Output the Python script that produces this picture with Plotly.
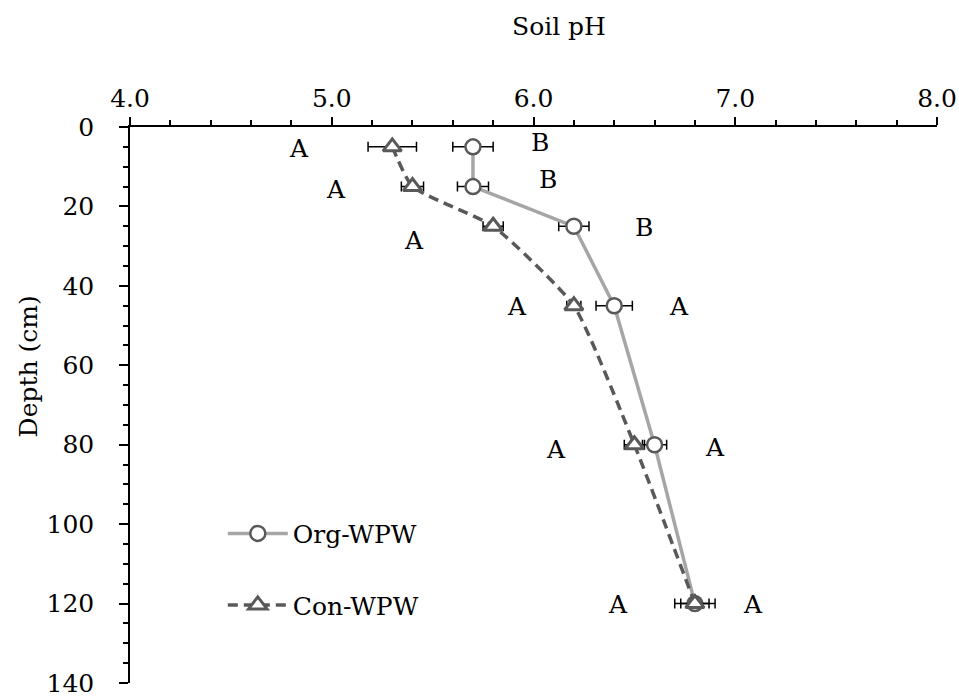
import plotly.graph_objects as go

# ---- data ----
depth = [5, 15, 25, 45, 80, 120]
org_ph = [5.7, 5.7, 6.2, 6.4, 6.6, 6.8]
org_err = [0.10, 0.077, 0.075, 0.09, 0.06, 0.07]
con_ph = [5.3, 5.4, 5.8, 6.2, 6.5, 6.8]
con_err = [0.12, 0.055, 0.05, 0.035, 0.05, 0.10]

# significance letters (left group / right group) with their data positions
left_letters = ["A", "A", "A", "A", "A", "A"]
left_x = [4.84, 5.02, 5.41, 5.92, 6.11, 6.42]
left_depth = [5.3, 15.8, 28.5, 45.3, 81.3, 120.3]
right_letters = ["B", "B", "B", "A", "A", "A"]
right_x = [6.03, 6.07, 6.55, 6.72, 6.90, 7.09]
right_depth = [3.8, 13.3, 25.3, 45.3, 80.8, 120.3]

x_ticks = [4.0, 5.0, 6.0, 7.0, 8.0]
y_ticks = [0, 20, 40, 60, 80, 100, 120, 140]

FONT = "DejaVu Serif"
FS = 25

fig = go.Figure()

fig.add_trace(go.Scatter(
    x=org_ph, y=depth, name="Org-WPW", mode="lines+markers",
    line=dict(color="#A6A6A6", width=3.5),
    marker=dict(symbol="circle", size=15, color="white",
                line=dict(color="#595959", width=2.5)),
    error_x=dict(type="data", array=org_err, color="black", thickness=1.5, width=5),
    legendgroup="org",
))
fig.add_trace(go.Scatter(
    x=con_ph, y=depth, name="Con-WPW", mode="lines+markers",
    line=dict(color="#595959", width=3.5, dash="10px,6px", shape="spline", smoothing=0.5),
    marker=dict(symbol="triangle-up", size=16, color="white",
                line=dict(color="#595959", width=3)),
    error_x=dict(type="data", array=con_err, color="black", thickness=1.5, width=5),
    legendgroup="con",
))

annotations = []
for t, xv, yv in zip(left_letters, left_x, left_depth):
    annotations.append(dict(x=xv, y=yv, xref="x", yref="y", text=t, showarrow=False,
                            font=dict(family=FONT, size=FS, color="black")))
for t, xv, yv in zip(right_letters, right_x, right_depth):
    annotations.append(dict(x=xv, y=yv, xref="x", yref="y", text=t, showarrow=False,
                            font=dict(family=FONT, size=FS, color="black")))

annotations.append(dict(x=0.532, y=1.18, xref="paper", yref="paper", text="Soil pH",
                        xanchor="center", yanchor="middle",
                        showarrow=False, font=dict(family=FONT, size=FS, color="black")))
annotations.append(dict(x=-0.126, y=0.57, xref="paper", yref="paper", text="Depth (cm)",
                        xanchor="center", yanchor="middle",
                        textangle=-90, showarrow=False,
                        font=dict(family=FONT, size=FS, color="black")))

fig.update_layout(
    width=959, height=698,
    margin=dict(l=130, r=22, t=127, b=15, autoexpand=False),
    paper_bgcolor="white", plot_bgcolor="white",
    font=dict(family=FONT, size=FS, color="black"),
    showlegend=True,
    legend=dict(x=0.115, y=0.31, xanchor="left", yanchor="top",
                bgcolor="rgba(0,0,0,0)", tracegroupgap=36,
                font=dict(family=FONT, size=FS, color="black"),
                itemwidth=60),
    annotations=annotations,
)

fig.update_xaxes(
    side="top", range=[4, 8], tickvals=x_ticks, tickformat=".1f",
    ticks="outside", ticklen=8, tickwidth=1.5, tickcolor="black",
    showline=True, linecolor="black", linewidth=1.5, showgrid=False, zeroline=False,
    minor=dict(dtick=0.2, ticks="outside", ticklen=5, tickwidth=1.5, tickcolor="black", showgrid=False),
    tickfont=dict(family=FONT, size=FS, color="black"),
    ticklabeloverflow="allow", automargin=False,
)
fig.update_yaxes(
    range=[140, 0], tickvals=y_ticks,
    ticks="outside", ticklen=9, tickwidth=1.5, tickcolor="black",
    showline=True, linecolor="black", linewidth=1.5, showgrid=False, zeroline=False,
    minor=dict(dtick=5, ticks="outside", ticklen=5, tickwidth=1.5, tickcolor="black", showgrid=False),
    tickfont=dict(family=FONT, size=FS, color="black"),
    ticklabelstandoff=20,
    ticklabeloverflow="allow", automargin=False,
)

fig.write_html("out.html")
